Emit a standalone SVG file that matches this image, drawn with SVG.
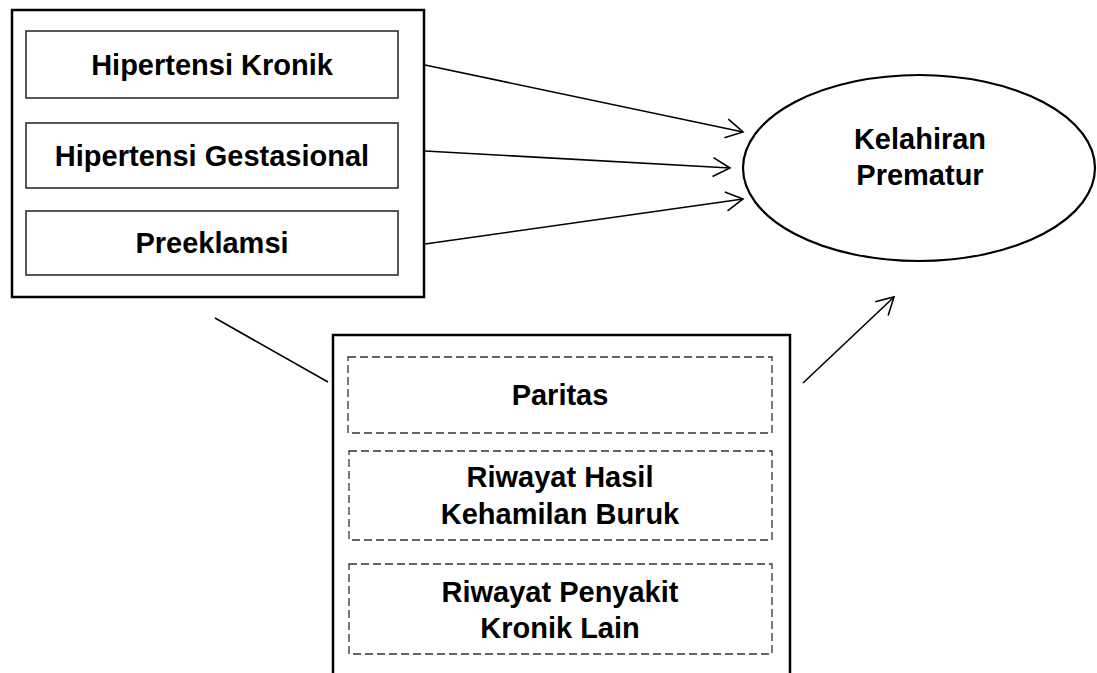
<svg xmlns="http://www.w3.org/2000/svg" width="1097" height="673" viewBox="0 0 1097 673">
<style>
.outer{fill:#fff;stroke:#000;stroke-width:2.5}
.inner{fill:#fff;stroke:#222;stroke-width:1.5}
.dash{fill:#fff;stroke:#333;stroke-width:1.3;stroke-dasharray:8 4}
.lbl{font-family:"Liberation Sans",Arial,sans-serif;font-weight:bold;font-size:29px;fill:#000;text-anchor:middle}
.conn{stroke:#000;stroke-width:1.6;fill:none}
</style>
<defs>
<marker id="arr" viewBox="0 0 22 22" refX="20" refY="11" markerWidth="22" markerHeight="22" markerUnits="userSpaceOnUse" orient="auto">
<path d="M3,1.5 L20,11 L3,20.5" fill="none" stroke="#000" stroke-width="1.6"/>
</marker>
</defs>
<rect width="1097" height="673" fill="#fff"/>
<g id="group-hipertensi">
<rect class="outer" x="12" y="10" width="412" height="287"/>
<g id="node-kronik"><rect class="inner" x="26" y="31" width="372" height="67"/><text class="lbl" x="212" y="75">Hipertensi Kronik</text></g>
<g id="node-gestasional"><rect class="inner" x="26" y="123" width="372" height="65"/><text class="lbl" x="212" y="166">Hipertensi Gestasional</text></g>
<g id="node-preeklamsi"><rect class="inner" x="26" y="211" width="372" height="64"/><text class="lbl" x="212" y="253">Preeklamsi</text></g>
</g>
<g id="node-kelahiran">
<ellipse cx="919" cy="168" rx="176" ry="93" fill="#fff" stroke="#000" stroke-width="2.2"/>
<text class="lbl" x="920" y="149">Kelahiran</text>
<text class="lbl" x="920" y="185">Prematur</text>
</g>
<g id="group-confounders">
<rect class="outer" x="333" y="335" width="457" height="350"/>
<g id="node-paritas"><rect class="dash" x="348" y="357" width="424" height="76"/><text class="lbl" x="560" y="405">Paritas</text></g>
<g id="node-riwayat-hasil"><rect class="dash" x="349" y="451" width="423" height="89"/><text class="lbl" x="560" y="487">Riwayat Hasil</text><text class="lbl" x="560" y="524">Kehamilan Buruk</text></g>
<g id="node-riwayat-penyakit"><rect class="dash" x="349" y="564" width="423" height="90"/><text class="lbl" x="560" y="602">Riwayat Penyakit</text><text class="lbl" x="560" y="638">Kronik Lain</text></g>
</g>
<g id="connectors">
<line class="conn" x1="425" y1="65" x2="743" y2="132" marker-end="url(#arr)"/>
<line class="conn" x1="425" y1="151" x2="730" y2="168" marker-end="url(#arr)"/>
<line class="conn" x1="425" y1="244" x2="743" y2="199" marker-end="url(#arr)"/>
<line class="conn" x1="215" y1="318" x2="328" y2="382"/>
<line class="conn" x1="803" y1="383" x2="894" y2="297" marker-end="url(#arr)"/>
</g>
</svg>
